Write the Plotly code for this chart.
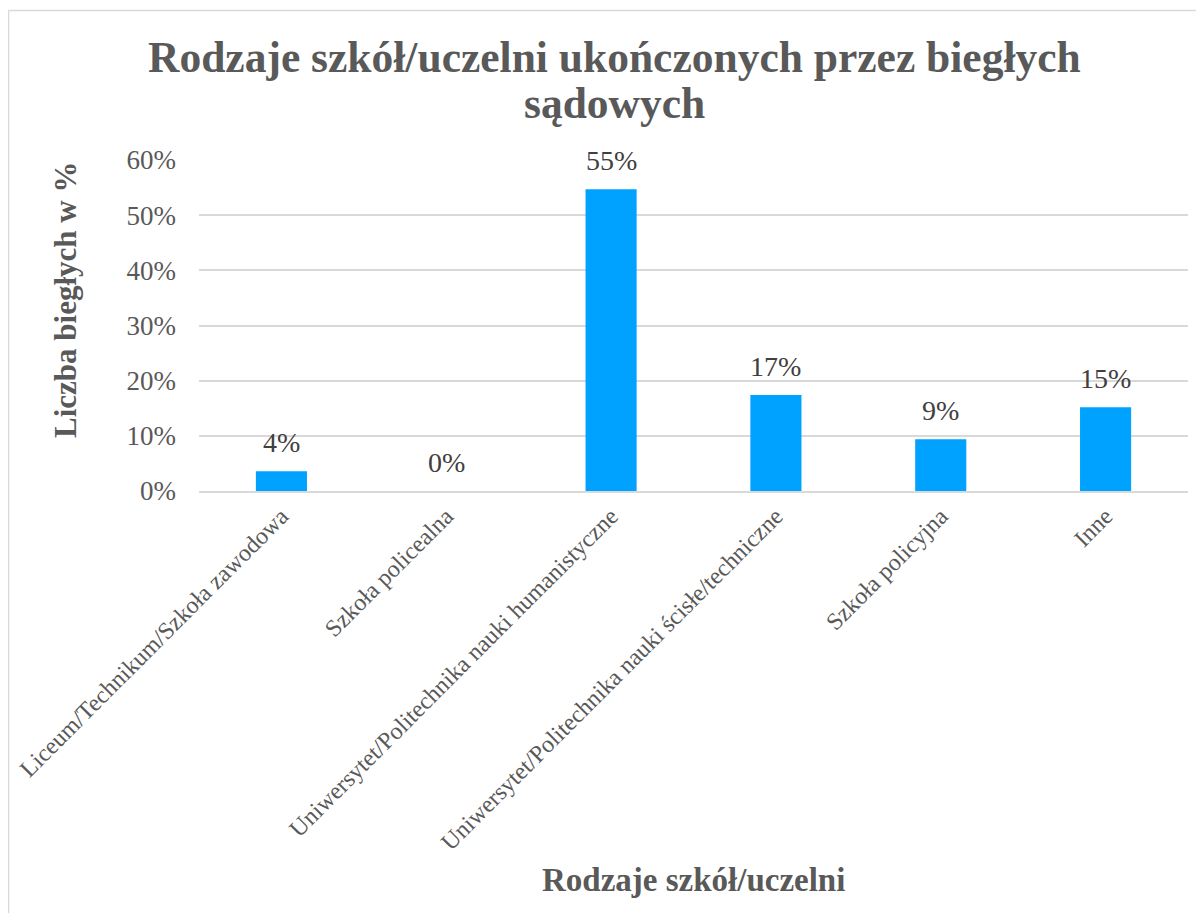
import plotly.graph_objects as go

categories = [
    "Liceum/Technikum/Szkoła zawodowa",
    "Szkoła policealna",
    "Uniwersytet/Politechnika nauki humanistyczne",
    "Uniwersytet/Politechnika nauki ścisłe/techniczne",
    "Szkoła policyjna",
    "Inne",
]
values = [0.036, 0.0, 0.547, 0.174, 0.094, 0.152]
labels = ["4%", "0%", "55%", "17%", "9%", "15%"]
y_ticks = [0, 0.1, 0.2, 0.3, 0.4, 0.5, 0.6]
y_tick_labels = ["0%", "10%", "20%", "30%", "40%", "50%", "60%"]
title_lines = ["Rodzaje szkół/uczelni ukończonych przez biegłych", "sądowych"]

FONT = "Liberation Serif, DejaVu Serif, serif"
OFF = 8  # page body margin
W, H = 1204 - 2 * OFF, 921 - 2 * OFF
# plot area in page pixels: x 199..1188, y 160..491
L = 199 - OFF
R = W - (1188 - OFF)
T = 160 - OFF
B = H - (491 - OFF)
pw, ph = W - L - R, H - T - B

def px(x):  # page pixel -> paper x
    return (x - OFF - L) / pw

def py(y):  # page pixel -> paper y
    return (H - B - (y - OFF)) / ph

fig = go.Figure()
fig.add_trace(go.Bar(
    x=categories, y=values,
    marker=dict(color="#00A2FF", line=dict(width=0)),
    width=0.31,
    hoverinfo="skip",
))

for c, v, t in zip(categories, values, labels):
    fig.add_annotation(x=c, y=v, text=t, showarrow=False, yanchor="middle",
                       yshift=29, font=dict(family=FONT, size=28, color="#404040"))

fig.add_annotation(x=px(65), y=py(300), xref="paper", yref="paper",
                   xanchor="center", yanchor="middle",
                   text="<b>Liczba biegłych w %</b>", textangle=-90, showarrow=False,
                   font=dict(family=FONT, size=31, color="#595959"))
fig.add_annotation(x=0.5, y=py(880), xref="paper", yref="paper",
                   xanchor="center", yanchor="middle",
                   text="<b>Rodzaje szkół/uczelni</b>", showarrow=False,
                   font=dict(family=FONT, size=33, color="#595959"))
for line, yc in zip(title_lines, [57, 103]):
    fig.add_annotation(x=px(614), y=py(yc), xref="paper", yref="paper",
                       xanchor="center", yanchor="middle",
                       text="<b>" + line + "</b>", showarrow=False,
                       font=dict(family=FONT, size=43.5, color="#595959"))

# chart border (top and left visible)
fig.add_shape(type="line", xref="paper", yref="paper",
              x0=px(8.5), x1=px(1204), y0=py(10.5), y1=py(10.5),
              line=dict(color="#d9d9d9", width=1.5), layer="below")
fig.add_shape(type="line", xref="paper", yref="paper",
              x0=px(8.5), x1=px(8.5), y0=py(10.5), y1=py(921),
              line=dict(color="#d9d9d9", width=1.5), layer="below")

fig.update_layout(
    width=W, height=H,
    margin=dict(l=L, r=R, t=T, b=B),
    paper_bgcolor="white", plot_bgcolor="white",
    showlegend=False,
    bargap=0.69,
    font=dict(family=FONT, color="#595959"),
    xaxis=dict(
        tickangle=-45,
        tickfont=dict(family=FONT, size=24, color="#595959"),
        showline=True, linecolor="#d9d9d9", linewidth=1.5,
        ticks="", showgrid=False,
    ),
    yaxis=dict(
        range=[0, 0.6],
        tickvals=y_ticks, ticktext=y_tick_labels,
        tickfont=dict(family=FONT, size=27, color="#595959"),
        showgrid=True, gridcolor="#d9d9d9", gridwidth=1.5,
        zeroline=False, showline=False, ticks="",
        ticklabelstandoff=22,
    ),
)

fig.write_html("out.html")
